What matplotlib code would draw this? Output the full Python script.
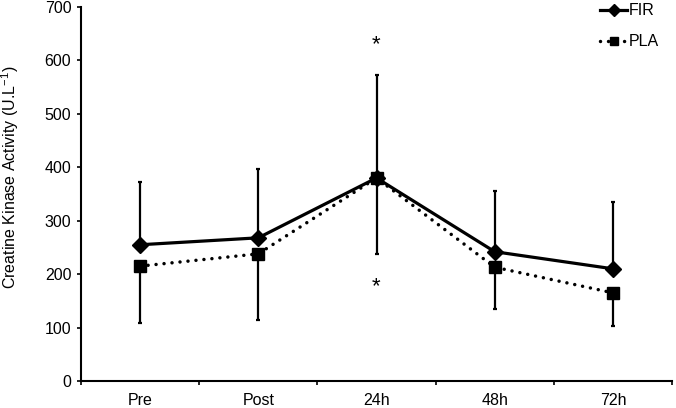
import matplotlib
matplotlib.use("Agg")
import matplotlib.pyplot as plt
import numpy as np

categories = ["Pre", "Post", "24h", "48h", "72h"]
fir_mean = [255, 268, 380, 242, 210]
fir_err_up = [117, 129, 193, 114, 125]
pla_mean = [215, 238, 380, 213, 165]
pla_err_down = [107, 124, 142, 78, 62]
star_positions = [("24h", 630), ("24h", 176)]

plt.rcParams['font.family'] = ['Liberation Sans', 'DejaVu Sans']

fig = plt.figure(figsize=(6.76, 4.08), dpi=100)
ax = fig.add_axes([81/676, 1 - 381/408, (672-81)/676, (381-7)/408])

x = np.arange(1, len(categories) + 1)

ax.errorbar(x, fir_mean, yerr=[np.zeros(len(x)), fir_err_up], fmt='none',
            ecolor='black', elinewidth=1.6, capsize=1.6, capthick=1.6, zorder=2)
ax.errorbar(x, pla_mean, yerr=[pla_err_down, np.zeros(len(x))], fmt='none',
            ecolor='black', elinewidth=1.6, capsize=1.6, capthick=1.6, zorder=2)

ax.plot(x, fir_mean, '-', color='black', lw=2.3, marker='D', ms=8.5,
        label='FIR', zorder=4)
ax.plot(x, pla_mean, linestyle=(0, (0.01, 2.3)), color='black', lw=2.5,
        dash_capstyle='round', marker='s', ms=8.5, label='PLA', zorder=3)

for cat, yv in star_positions:
    ax.text(categories.index(cat) + 1, yv, '*', ha='center', va='center',
            fontsize=16)

ax.set_xlim(0.5, len(categories) + 0.5)
ax.set_ylim(0, 700)
ax.set_yticks(np.arange(0, 701, 100))
ax.tick_params(axis='y', direction='out', length=3, width=1.2, labelsize=11.5, pad=4)

ax.set_xticks(np.arange(0.5, len(categories) + 1, 1))
ax.set_xticklabels([])
ax.set_xticks(x, minor=True)
ax.set_xticklabels(categories, minor=True)
ax.tick_params(axis='x', which='major', direction='out', length=3, width=1.2)
ax.tick_params(axis='x', which='minor', length=0, labelsize=11.5, pad=8.5)

for s in ['top', 'right']:
    ax.spines[s].set_visible(False)
for s in ['left', 'bottom']:
    ax.spines[s].set_linewidth(1.5)

ax.set_ylabel('Creatine Kinase Activity (U.L$^{\\mathregular{-1}}$)', fontsize=11.5)
ax.yaxis.set_label_coords(-0.101, 0.545)

leg = ax.legend(loc='upper right', frameon=False, fontsize=11.5,
                handlelength=1.65, handletextpad=0.1, labelspacing=1.0,
                markerscale=0.75,
                bbox_to_anchor=(0.988, 1.027), borderaxespad=0)

fig.savefig('out.png', dpi=100)
